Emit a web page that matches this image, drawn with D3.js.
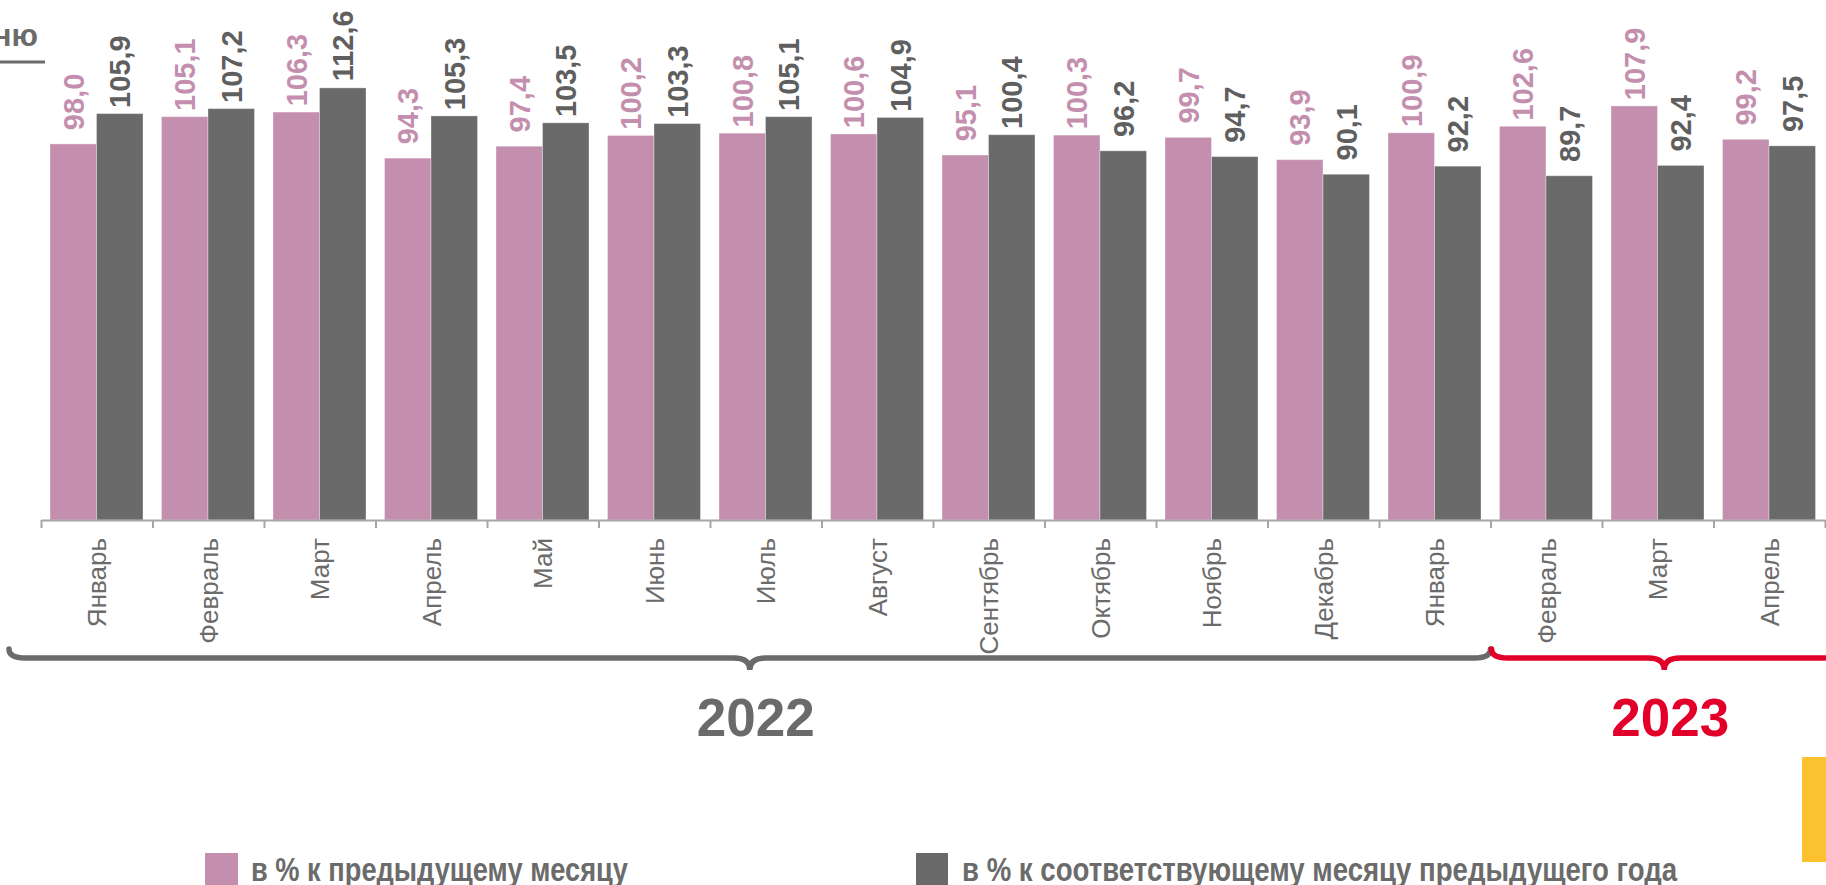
<!DOCTYPE html>
<html>
<head>
<meta charset="utf-8">
<script src="https://cdn.jsdelivr.net/npm/d3@7"></script>
<style>
body { margin: 0; background: #fff; overflow: hidden; }
svg { display: block; font-family: "Liberation Sans", Arial, sans-serif; }
</style>
</head>
<body>
<div id="chart"></div>
<script>
var width = 1826,
height = 885;

// Data
var months = ["Январь", "Февраль", "Март", "Апрель", "Май", "Июнь", "Июль", "Август",
    "Сентябрь", "Октябрь", "Ноябрь", "Декабрь", "Январь", "Февраль", "Март", "Апрель"];
var prevMonth = [98.0, 105.1, 106.3, 94.3, 97.4, 100.2, 100.8, 100.6, 95.1, 100.3, 99.7, 93.9, 100.9, 102.6, 107.9, 99.2];
var prevYear = [105.9, 107.2, 112.6, 105.3, 103.5, 103.3, 105.1, 104.9, 100.4, 96.2, 94.7, 90.1, 92.2, 89.7, 92.4, 97.5];
var seriesNames = ["в % к предыдущему месяцу", "в % к соответствующему месяцу предыдущего года"];
var years = ["2022", "2023"];

var pink = "#c48fae",
grey = "#6a6a6a",
red = "#e2002b";

var svg = d3.select("#chart").append("svg")
.attr("width", width)
.attr("height", height)

var idx = d3.range(months.length);

var x = d3.scaleBand()
.domain(idx)
.range([41, 1825]);

var xEdge = d3.scaleLinear()
.domain([0, months.length])
.range([41, 1825]);

var x1 = d3.scaleBand()
.domain([0, 1])
.range([9, x.bandwidth() - 9.5]);

var y = d3.scaleLinear()
.domain([0, 135.5])
.range([520, 0]);

var fmt = function (v) { return v.toFixed(1).replace(".", ","); };

var rows = idx.map(function (i) {
    return [
        { i: i, s: 0, v: prevMonth[i] },
        { i: i, s: 1, v: prevYear[i] }
    ];
});

var groups = svg.selectAll("g.grp")
.data(rows)
.join("g")
.attr("class", "grp")
.attr("transform", function (d, i) { return "translate(" + x(i) + ",0)"; });

groups.selectAll("rect")
.data(function (d) { return d; })
.join("rect")
.attr("x", function (d) { return x1(d.s); })
.attr("y", function (d) { return y(d.v); })
.attr("width", x1.bandwidth())
.attr("height", function (d) { return y(0) - y(d.v); })
.attr("fill", function (d) { return d.s === 0 ? pink : grey; })
.attr("stroke", "#ffffff")
.attr("stroke-opacity", 0.35)
.attr("stroke-width", 1);

groups.selectAll("text")
.data(function (d) { return d; })
.join("text")
.attr("transform", function (d) {
    return "translate(" + (x1(d.s) + x1.bandwidth() / 2) + "," + (y(d.v) - 42) + ") rotate(-90)";
})
.attr("text-anchor", "middle")
.attr("dy", "0.36em")
.attr("font-size", 29)
.attr("font-weight", "bold")
.attr("fill", function (d) { return d.s === 0 ? pink : "#5f5f5f"; })
.text(function (d) { return fmt(d.v); });

// axis with ticks on the band edges
var axisG = svg.append("g")
.attr("transform", "translate(0," + y(0) + ")")
.call(d3.axisBottom(xEdge).tickValues(d3.range(months.length + 1)).tickFormat("").tickSize(8).tickSizeOuter(0));
axisG.select(".domain").attr("stroke", "#a6a6a6").attr("stroke-width", 2);
axisG.selectAll(".tick line").attr("stroke", "#a6a6a6").attr("stroke-width", 2);

svg.selectAll("text.month")
.data(months)
.join("text")
.attr("class", "month")
.attr("transform", function (d, i) {
    return "translate(" + (x(i) + x.bandwidth() / 2) + ",538) rotate(-90)";
})
.attr("text-anchor", "end")
.attr("dy", "0.36em")
.attr("font-size", 26)
.attr("fill", "#6b6b6b")
.text(function (d) { return d; });

// braces
function brace(x0, x2, yl) {
    var xm = (x0 + x2) / 2, r = 16;
    return "M" + x0 + "," + (yl - 9) +
        " Q" + x0 + "," + yl + " " + (x0 + r) + "," + yl +
        " L" + (xm - r) + "," + yl +
        " Q" + xm + "," + yl + " " + xm + "," + (yl + 12) +
        " Q" + xm + "," + yl + " " + (xm + r) + "," + yl +
        " L" + (x2 - r) + "," + yl +
        " Q" + x2 + "," + yl + " " + x2 + "," + (yl - 9);
}

var spans = [
    { x0: xEdge(0) - 32, x2: xEdge(13), c: grey, t: years[0] },
    { x0: xEdge(13) + 1, x2: xEdge(16) + 12, c: red, t: years[1] }
];

svg.selectAll("path.brace")
.data(spans)
.join("path")
.attr("class", "brace")
.attr("d", function (d) { return brace(d.x0, d.x2, 658); })
.attr("fill", "none")
.attr("stroke", function (d) { return d.c; })
.attr("stroke-width", 5.5)
.attr("stroke-linecap", "round");

svg.selectAll("text.year")
.data(spans)
.join("text")
.attr("class", "year")
.attr("x", function (d) { return (d.x0 + d.x2) / 2 + 6; })
.attr("y", 736)
.attr("text-anchor", "middle")
.attr("font-size", 53)
.attr("font-weight", "bold")
.attr("fill", function (d) { return d.c; })
.text(function (d) { return d.t; });

// title remnant top left
svg.append("text")
.attr("x", 38)
.attr("y", 46)
.attr("text-anchor", "end")
.attr("font-size", 31)
.attr("font-weight", "bold")
.attr("fill", "#6b6b6b")
.text("ню");
svg.append("line")
.attr("x1", 0).attr("x2", 45)
.attr("y1", 62).attr("y2", 62)
.attr("stroke", "#6b6b6b")
.attr("stroke-width", 3);

// legend
var legend = [
    { x: 205, w: 33, tx: 251, tl: 377, c: pink, t: seriesNames[0] },
    { x: 916, w: 32, tx: 962, tl: 715, c: grey, t: seriesNames[1] }
];
var lg = svg.selectAll("g.leg")
.data(legend)
.join("g")
.attr("class", "leg");
lg.append("rect")
.attr("x", function (d) { return d.x; })
.attr("y", 853)
.attr("width", function (d) { return d.w; })
.attr("height", 35)
.attr("fill", function (d) { return d.c; });
lg.append("text")
.attr("x", function (d) { return d.tx; })
.attr("y", 881)
.attr("font-family", "'Liberation Sans Narrow', 'Arial Narrow', 'Liberation Sans', sans-serif")
.attr("font-size", 34)
.attr("font-weight", "bold")
.attr("fill", "#6b6b6b")
.attr("textLength", function (d) { return d.tl; })
.attr("lengthAdjust", "spacingAndGlyphs")
.text(function (d) { return d.t; });

// yellow tab on the right edge
svg.append("rect")
.attr("x", 1802)
.attr("y", 757)
.attr("width", 30)
.attr("height", 105)
.attr("fill", "#fcc12e");
</script>
</body>
</html>
